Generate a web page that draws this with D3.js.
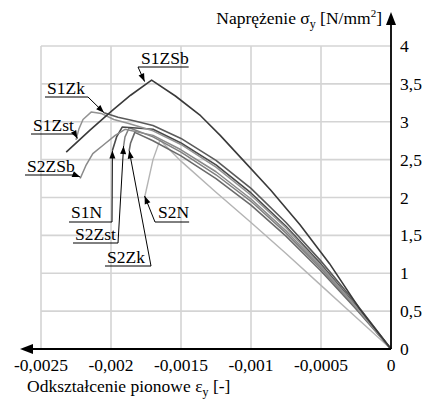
<!DOCTYPE html>
<html>
<head>
<meta charset="utf-8">
<script src="https://cdn.jsdelivr.net/npm/d3@7"></script>
<style>
  body { margin: 0; background: #fff; }
</style>
</head>
<body>
<script>
// Axis ticks
const xTicks = [-0.0025, -0.002, -0.0015, -0.001, -0.0005, 0];
const yTicks = [0, 0.5, 1, 1.5, 2, 2.5, 3, 3.5, 4];

// Curves: [strain, stress]
const s1zsb = [[0,0],[-0.00022,0.52],[-0.00044,1.13],[-0.00065,1.64],[-0.00086,2.1],[-0.00106,2.5],[-0.00122,2.82],[-0.00136,3.08],[-0.00154,3.34],[-0.00171,3.55],[-0.00186,3.35],[-0.00199,3.15],[-0.00215,2.89],[-0.00232,2.6]];
const s1zk = [[0,0],[-0.00025,0.6],[-0.0005,1.16],[-0.00075,1.67],[-0.001,2.12],[-0.00125,2.49],[-0.0015,2.78],[-0.0017,2.95],[-0.00183,3.01],[-0.00195,3.06],[-0.00205,3.12]];
const s1zst = [[0,0],[-0.00025,0.56],[-0.0005,1.1],[-0.00075,1.6],[-0.001,2.03],[-0.00125,2.4],[-0.0015,2.7],[-0.0017,2.88],[-0.00188,2.98],[-0.00198,3.03],[-0.00207,3.11],[-0.00214,3.13],[-0.0022,3.03],[-0.00223,2.9],[-0.00225,2.76]];
const s2zsb = [[0,0],[-0.00025,0.55],[-0.0005,1.08],[-0.00075,1.56],[-0.001,1.98],[-0.00125,2.34],[-0.0015,2.63],[-0.0017,2.82],[-0.0019,2.9],[-0.00197,2.82],[-0.00205,2.7],[-0.00213,2.58],[-0.00218,2.42],[-0.00222,2.25]];
const s1n = [[0,0],[-0.00025,0.57],[-0.0005,1.12],[-0.00075,1.62],[-0.001,2.06],[-0.00125,2.43],[-0.0015,2.72],[-0.0017,2.9],[-0.00192,2.93],[-0.00196,2.8],[-0.00199,2.62]];
const s2zst = [[0,0],[-0.00025,0.55],[-0.0005,1.06],[-0.00075,1.53],[-0.001,1.95],[-0.00125,2.3],[-0.0015,2.6],[-0.0017,2.8],[-0.00187,2.92],[-0.0019,2.8],[-0.00191,2.68]];
const s2zk = [[0,0],[-0.00025,0.53],[-0.0005,1.03],[-0.00075,1.49],[-0.001,1.9],[-0.00125,2.25],[-0.0015,2.55],[-0.0017,2.75],[-0.00183,2.86],[-0.00186,2.72],[-0.00187,2.62]];
const s2n = [[0,0],[-0.00025,0.42],[-0.0005,0.84],[-0.00075,1.26],[-0.001,1.67],[-0.00125,2.07],[-0.0015,2.48],[-0.00165,2.76],[-0.0017,2.5],[-0.00173,2.25],[-0.00176,2.0]];

const series = [
  { name: "S2N", pts: s2n, color: "#b4b4b4", w: 1.4 },
  { name: "S2Zk", pts: s2zk, color: "#6a6a6a", w: 1.6 },
  { name: "S2Zst", pts: s2zst, color: "#808080", w: 1.5 },
  { name: "S1N", pts: s1n, color: "#4a4a4a", w: 1.6 },
  { name: "S2ZSb", pts: s2zsb, color: "#8a8a8a", w: 1.5 },
  { name: "S1Zst", pts: s1zst, color: "#939393", w: 1.5 },
  { name: "S1Zk", pts: s1zk, color: "#5a5a5a", w: 1.6 },
  { name: "S1ZSb", pts: s1zsb, color: "#3a3a3a", w: 1.6 }
];

// Labels: text, text position, leader start, arrow tip (data coords)
const labels = [
  { text: "S1ZSb", x: 141, y: 64, from: [138, 67], tip: [-0.00176, 3.53] },
  { text: "S1Zk", x: 47, y: 94, from: [88, 97], tip: [-0.00205, 3.12] },
  { text: "S1Zst", x: 33, y: 131, from: [75, 134], tip: [-0.00224, 2.78] },
  { text: "S2ZSb", x: 27, y: 172, from: [75, 175], tip: [-0.00222, 2.27] },
  { text: "S1N", x: 71, y: 218, from: [112, 222], tip: [-0.00199, 2.62] },
  { text: "S2Zst", x: 75, y: 240, from: [118, 243], tip: [-0.00191, 2.68] },
  { text: "S2Zk", x: 107, y: 263, from: [151, 266], tip: [-0.00187, 2.62] },
  { text: "S2N", x: 158, y: 218, from: [155, 222], tip: [-0.00176, 2.02] }
];

const width = 425, height = 409;
const fontSize = 17.5;
const serif = "Liberation Serif";
const svg = d3.select("body").append("svg")
  .attr("width", width)
  .attr("height", height);

const x = d3.scaleLinear().domain([-0.0025, 0]).range([41, 391]);
const y = d3.scaleLinear().domain([0, 4]).range([349, 46]);

const fmt = d => String(d).replace(".", ",");

// Grid
svg.append("g").selectAll("line")
  .data(xTicks.slice(0, -1))
  .enter().append("line")
  .attr("x1", d => x(d)).attr("x2", d => x(d))
  .attr("y1", y(4)).attr("y2", y(0))
  .attr("stroke", "#d4d4d4").attr("stroke-width", 1.6);
svg.append("g").selectAll("line")
  .data(yTicks.slice(1))
  .enter().append("line")
  .attr("x1", x(-0.0025)).attr("x2", x(0))
  .attr("y1", d => y(d)).attr("y2", d => y(d))
  .attr("stroke", "#d4d4d4").attr("stroke-width", 1.6);

// Curves
const line = d3.line().x(d => x(d[0])).y(d => y(d[1]));
svg.append("g").selectAll("path")
  .data(series)
  .enter().append("path")
  .attr("d", d => line(d.pts))
  .attr("fill", "none")
  .attr("stroke", d => d.color)
  .attr("stroke-width", d => d.w)
  .attr("stroke-linejoin", "round");

// Axes with arrows
svg.append("line")
  .attr("x1", x(0)).attr("x2", 30)
  .attr("y1", y(0)).attr("y2", y(0))
  .attr("stroke", "#000").attr("stroke-width", 1.8);
svg.append("path")
  .attr("d", `M20,${y(0)} L33,${y(0) - 5} L33,${y(0) + 5} Z`)
  .attr("fill", "#000");
svg.append("line")
  .attr("x1", x(0)).attr("x2", x(0))
  .attr("y1", y(0)).attr("y2", 22)
  .attr("stroke", "#000").attr("stroke-width", 1.8);
svg.append("path")
  .attr("d", `M${x(0)},12 L${x(0) - 5},25 L${x(0) + 5},25 Z`)
  .attr("fill", "#000");

// Text helper: serif face set on every node
function txt(sel) {
  return sel.append("text").style("font-family", `"${serif}"`).attr("font-size", fontSize);
}

// Tick labels
xTicks.forEach(d => {
  txt(svg).attr("x", x(d)).attr("y", 371).attr("text-anchor", "middle").text(fmt(d));
});
yTicks.forEach(d => {
  txt(svg).attr("x", 400).attr("y", y(d) + 6).text(fmt(d));
});

// Axis titles
const yt = txt(svg).attr("x", 382).attr("y", 24).attr("text-anchor", "end");
yt.append("tspan").text("Naprężenie σ");
yt.append("tspan").attr("font-size", 12).attr("dy", 4).text("y");
yt.append("tspan").attr("dy", -4).text(" [N/mm");
yt.append("tspan").attr("font-size", 11).attr("dy", -7).text("2");
yt.append("tspan").attr("dy", 7).text("]");

const xt = txt(svg).attr("x", 27).attr("y", 392);
xt.append("tspan").text("Odkształcenie pionowe ε");
xt.append("tspan").attr("font-size", 12).attr("dy", 4).text("y");
xt.append("tspan").attr("dy", -4).text(" [-]");

// Curve labels with leader arrows
const lg = svg.append("g");
labels.forEach(l => {
  const t = txt(lg).attr("x", l.x).attr("y", l.y).text(l.text);
  const w = t.node().getComputedTextLength();
  const ux0 = Math.min(l.x - 2, l.from[0]);
  const ux1 = Math.max(l.x + w, l.from[0]);
  lg.append("line")
    .attr("x1", ux0).attr("x2", ux1)
    .attr("y1", l.from[1]).attr("y2", l.from[1])
    .attr("stroke", "#000").attr("stroke-width", 1);
  const tx = x(l.tip[0]), ty = y(l.tip[1]);
  lg.append("line")
    .attr("x1", l.from[0]).attr("y1", l.from[1])
    .attr("x2", tx).attr("y2", ty)
    .attr("stroke", "#000").attr("stroke-width", 1);
  const a = Math.atan2(ty - l.from[1], tx - l.from[0]);
  const len = 8, hw = 3;
  const bx = tx - len * Math.cos(a), by = ty - len * Math.sin(a);
  lg.append("path")
    .attr("d", `M${tx},${ty} L${bx - hw * Math.sin(a)},${by + hw * Math.cos(a)} L${bx + hw * Math.sin(a)},${by - hw * Math.cos(a)} Z`)
    .attr("fill", "#000");
});
</script>
</body>
</html>
